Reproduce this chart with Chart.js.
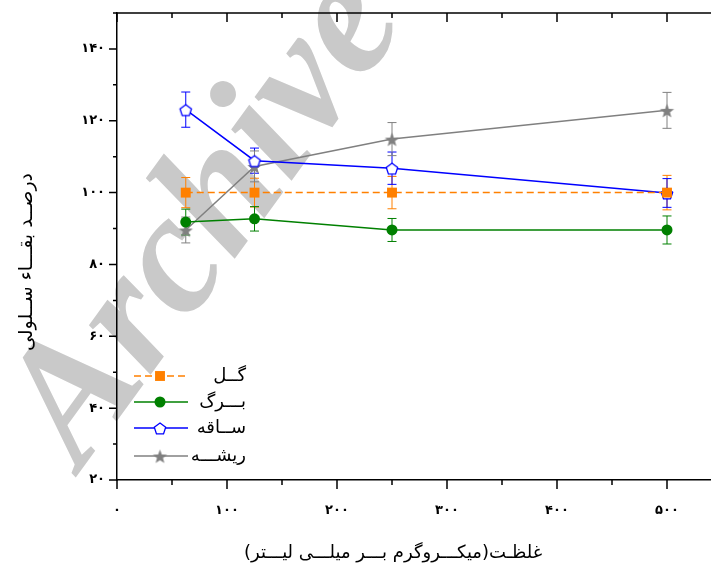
<!DOCTYPE html>
<html>
<head>
<meta charset="utf-8">
<script src="https://cdn.jsdelivr.net/npm/chart.js@4.4.0/dist/chart.umd.min.js"></script>
<style>
html, body { margin: 0; padding: 0; background: #fff; }
#wrap { width: 711px; height: 574px; }
</style>
</head>
<body>
<div id="wrap"><canvas id="chart"></canvas></div>
<script>
// concentrations (micrograms per millilitre)
var concentrations = [62.5, 125, 250, 500];
var seriesNames = ['گــل', 'بـــرگ', 'ســاقه', 'ریشـــه'];

// cell survival %, with error bar half-widths
var flower = [100, 100, 100, 100];
var flowerErr = [4.2, 4.0, 4.5, 4.8];
var leaf = [91.8, 92.7, 89.6, 89.6];
var leafErr = [3.6, 3.4, 3.2, 3.9];
var stem = [123.1, 108.9, 106.8, 99.9];
var stemErr = [4.9, 3.5, 4.5, 4.0];
var root = [89.6, 107.3, 114.9, 122.9];
var rootErr = [3.6, 4.3, 4.6, 5.0];

var xTickValues = [0, 100, 200, 300, 400, 500];
var xTickLabels = ['۰', '۱۰۰', '۲۰۰', '۳۰۰', '۴۰۰', '۵۰۰'];
var yTickValues = [20, 40, 60, 80, 100, 120, 140];
var yTickLabels = ['۲۰', '۴۰', '۶۰', '۸۰', '۱۰۰', '۱۲۰', '۱۴۰'];

var xTitle = 'غلظـت(میکـــروگرم بـــر میلـــی لیـــتر)';
var yTitle = 'درصــد بقـــاء ســلولی';

var FA = "'DejaVu Sans', sans-serif";

function pentagon(r, color) {
  var s = Math.ceil(r * 2 + 4);
  var c = document.createElement('canvas');
  c.width = s; c.height = s;
  var g = c.getContext('2d');
  g.beginPath();
  for (var k = 0; k < 5; k++) {
    var a = -Math.PI / 2 + k * 2 * Math.PI / 5;
    var px = s / 2 + r * Math.cos(a), py = s / 2 + 1 + r * Math.sin(a);
    if (k === 0) g.moveTo(px, py); else g.lineTo(px, py);
  }
  g.closePath();
  g.fillStyle = '#fff';
  g.fill();
  g.lineWidth = 1.3;
  g.strokeStyle = color;
  g.stroke();
  return c;
}

function star(r, color) {
  var s = Math.ceil(r * 2 + 2);
  var c = document.createElement('canvas');
  c.width = s; c.height = s;
  var g = c.getContext('2d');
  g.beginPath();
  for (var k = 0; k < 10; k++) {
    var a = -Math.PI / 2 + k * Math.PI / 5;
    var rr = k % 2 ? r * 0.42 : r;
    var px = s / 2 + rr * Math.cos(a), py = s / 2 + 1 + rr * Math.sin(a);
    if (k === 0) g.moveTo(px, py); else g.lineTo(px, py);
  }
  g.closePath();
  g.fillStyle = color;
  g.fill();
  return c;
}

function pts(ys) {
  return concentrations.map(function (x, i) { return { x: x, y: ys[i] }; });
}

var datasets = [
  { label: seriesNames[0], data: pts(flower), errs: flowerErr, borderColor: '#ff8000', backgroundColor: '#ff8000',
    borderDash: [7, 4], pointStyle: 'rect', pointRadius: 7, pointBorderWidth: 0 },
  { label: seriesNames[1], data: pts(leaf), errs: leafErr, borderColor: '#008000', backgroundColor: '#008000',
    pointStyle: 'circle', pointRadius: 5.5, pointBorderWidth: 0 },
  { label: seriesNames[2], data: pts(stem), errs: stemErr, borderColor: '#0000ff', backgroundColor: '#fff',
    pointStyle: pentagon(6, '#0000ff'), pointRadius: 6 },
  { label: seriesNames[3], data: pts(root), errs: rootErr, borderColor: '#808080', backgroundColor: '#808080',
    pointStyle: star(7.5, '#808080'), pointRadius: 7 }
];
datasets.forEach(function (d) {
  d.borderWidth = 1.5;
  d.tension = 0;
  d.fill = false;
  d.pointBackgroundColor = d.backgroundColor;
  d.pointBorderColor = d.borderColor;
});

var watermark = {
  id: 'watermark',
  beforeDraw: function (chart) {
    var ctx = chart.ctx;
    ctx.save();
    ctx.translate(208, 220);
    ctx.rotate(-54 * Math.PI / 180);
    ctx.font = "italic bold 172px 'Liberation Serif', serif";
    ctx.fillStyle = '#c9c9c9';
    ctx.textAlign = 'center';
    ctx.textBaseline = 'middle';
    ctx.fillText('Archive', 0, 0);
    ctx.restore();
  }
};

var errorBars = {
  id: 'errorBars',
  beforeDatasetsDraw: function (chart) {
    var ctx = chart.ctx, xs = chart.scales.x, ys = chart.scales.y;
    ctx.save();
    ctx.lineWidth = 1;
    chart.data.datasets.forEach(function (d) {
      ctx.strokeStyle = d.borderColor;
      d.data.forEach(function (p, i) {
        var px = xs.getPixelForValue(p.x);
        var t = ys.getPixelForValue(p.y + d.errs[i]);
        var b = ys.getPixelForValue(p.y - d.errs[i]);
        ctx.beginPath();
        ctx.moveTo(px, t); ctx.lineTo(px, b);
        ctx.moveTo(px - 4.5, t); ctx.lineTo(px + 4.5, t);
        ctx.moveTo(px - 4.5, b); ctx.lineTo(px + 4.5, b);
        ctx.stroke();
      });
    });
    ctx.restore();
  }
};

function isMajor(v, step) {
  return Math.abs(v / step - Math.round(v / step)) < 1e-6;
}

var frame = {
  id: 'frame',
  afterDraw: function (chart) {
    var ctx = chart.ctx, a = chart.chartArea, xs = chart.scales.x, ys = chart.scales.y;
    ctx.save();
    ctx.strokeStyle = '#000';
    ctx.lineWidth = 1.5;
    ctx.beginPath();
    ctx.moveTo(a.left, a.top); ctx.lineTo(chart.width, a.top);
    xs.ticks.forEach(function (t) {
      var px = xs.getPixelForValue(t.value);
      var len = isMajor(t.value, 100) ? 9 : 5;
      ctx.moveTo(px, a.top); ctx.lineTo(px, a.top + len);
      ctx.moveTo(px, a.bottom); ctx.lineTo(px, a.bottom + len);
    });
    ys.ticks.forEach(function (t) {
      var py = ys.getPixelForValue(t.value);
      var len = isMajor(t.value, 20) ? 8 : 4;
      ctx.moveTo(a.left, py); ctx.lineTo(a.left - len, py);
    });
    ctx.stroke();

    // axis titles
    ctx.fillStyle = '#000';
    ctx.font = '18px ' + FA;
    ctx.textAlign = 'center';
    ctx.textBaseline = 'middle';
    ctx.fillText(xTitle, 393, 553);
    ctx.translate(27, 262);
    ctx.rotate(-Math.PI / 2);
    ctx.font = '19px ' + FA;
    ctx.fillText(yTitle, 0, 0);
    ctx.restore();

    // legend
    var rows = [376, 402, 428, 456];
    ctx.save();
    chart.data.datasets.forEach(function (d, i) {
      var y = rows[i];
      ctx.strokeStyle = d.borderColor;
      ctx.lineWidth = 1.5;
      ctx.setLineDash(d.borderDash || []);
      ctx.beginPath();
      ctx.moveTo(134, y); ctx.lineTo(188, y);
      ctx.stroke();
      ctx.setLineDash([]);
      ctx.fillStyle = d.pointBackgroundColor;
      ctx.strokeStyle = d.pointBorderColor;
      var bw = d.pointBorderWidth === 0 ? 0 : 1.3;
      ctx.lineWidth = bw;
      Chart.helpers.drawPoint(ctx, { pointStyle: d.pointStyle, radius: d.pointRadius, rotation: 0, borderWidth: bw }, 160, y);
      ctx.fillStyle = '#000';
      ctx.font = '18px ' + FA;
      ctx.textAlign = 'right';
      ctx.textBaseline = 'middle';
      ctx.fillText(d.label, 246, y);
    });
    ctx.restore();
  }
};

function keepSteps(step) {
  return function (scale) {
    scale.ticks = scale.ticks.filter(function (t) { return isMajor(t.value, step); });
  };
}

new Chart(document.getElementById('chart'), {
  type: 'line',
  data: { datasets: datasets },
  plugins: [watermark, errorBars, frame],
  options: {
    responsive: true,
    maintainAspectRatio: false,
    animation: false,
    events: [],
    layout: { autoPadding: false, padding: { top: 13, right: 0, left: 0, bottom: 0 } },
    plugins: { legend: { display: false }, tooltip: { enabled: false } },
    scales: {
      x: {
        type: 'linear', min: 0, max: 540,
        afterBuildTicks: keepSteps(50),
        afterFit: function (s) { s.height = 94; s.paddingLeft = 0; s.paddingRight = 0; },
        grid: { drawOnChartArea: false, drawTicks: false },
        border: { color: '#000', width: 1.5 },
        ticks: {
          stepSize: 50, autoSkip: false, maxRotation: 0, padding: 23, color: '#000',
          font: { family: FA, size: 13, weight: 'bold' },
          callback: function (v) { var i = xTickValues.indexOf(v); return i >= 0 ? xTickLabels[i] : ''; }
        }
      },
      y: {
        min: 20, max: 150,
        afterBuildTicks: keepSteps(10),
        afterFit: function (s) { s.width = 117; s.paddingTop = 0; s.paddingBottom = 0; },
        grid: { drawOnChartArea: false, drawTicks: false },
        border: { color: '#000', width: 1.5 },
        ticks: {
          stepSize: 10, autoSkip: false, padding: 12, color: '#000',
          font: { family: FA, size: 13, weight: 'bold' },
          callback: function (v) { var i = yTickValues.indexOf(v); return i >= 0 ? yTickLabels[i] : ''; }
        }
      }
    }
  }
});
</script>
</body>
</html>
